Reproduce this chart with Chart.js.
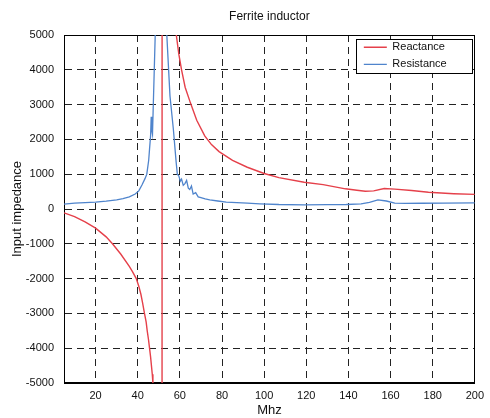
<!DOCTYPE html>
<html>
<head>
<meta charset="utf-8">
<script src="https://cdn.jsdelivr.net/npm/chart.js@4.4.1/dist/chart.umd.min.js"></script>
<style>
  html, body { margin: 0; padding: 0; background: #ffffff; }
  #c { display: block; }
</style>
</head>
<body>
<canvas id="c" width="490" height="418"></canvas>
<script>
// ---- Data ----
const chartTitle = "Ferrite inductor";
const xTitle = "Mhz";
const yTitle = "Input impedance";
const seriesNames = ["Reactance", "Resistance"];

const xTicks = [20, 40, 60, 80, 100, 120, 140, 160, 180, 200];

// Reactance (MHz, ohm)
const reactFreq = [5, 10, 15, 20, 25, 28, 32, 36, 37.5, 39.3, 40.5, 41.5, 42.3, 43.2, 44, 44.5, 45.1, 45.6, 46.1, 46.5, 46.9, 47.2,
  48.5, 50, 51.4, 51.7, 53.5, 55.5, 57, 58.3, 59.5, 60.8, 62.5, 65, 68, 71.8, 75, 78.6, 85, 92, 100, 107, 119, 128,
  138.6, 144, 148, 152, 157, 162, 170, 178, 190, 200];
const reactance = [-110, -220, -370, -550, -800, -1000, -1300, -1650, -1800, -2000, -2220, -2450, -2700, -3000, -3250, -3500, -3750, -4000, -4250, -4500, -4750, -5000,
  -7000, -12000, -80000, 80000, 15000, 8000, 6000, 5000, 4450, 4000, 3500, 3050, 2550, 2100, 1850, 1650, 1400, 1200, 1020, 900, 770, 700,
  580, 540, 510, 520, 590, 570, 530, 480, 440, 420];

// Resistance (MHz, ohm)
const resistFreq = [5, 10, 15, 20, 25, 30, 33, 36, 38.8, 40.5, 42, 43.5, 44.3, 45.2, 45.6, 46.1, 46.4, 46.7, 47, 47.3,
  47.8, 48.3, 49.5, 51.5, 53, 53.8, 55.3, 56.9, 58.2, 58.8, 59.5, 60.2, 60.8, 61.6, 62.4, 63.2, 64, 64.7, 65.5, 66.3,
  67.5, 68.7, 70, 72, 74.2, 78, 82, 87, 92, 98, 107, 119, 130, 139, 146, 150, 154, 158, 162, 167, 175, 185, 200];
const resistance = [140, 170, 185, 200, 225, 265, 300, 350, 430, 520, 690, 880, 1000, 1400, 1720, 2100, 2650, 2250, 2150, 2800,
  3900, 5000, 12000, 30000, 11000, 5000, 3250, 2300, 1370, 1000, 950, 800, 860, 680, 730, 820, 600, 560, 660, 430,
  470, 350, 330, 290, 260, 230, 200, 185, 170, 150, 130, 120, 125, 130, 150, 190, 260, 230, 170, 160, 165, 170, 175];

const yMin = -5000, yMax = 5000, yStep = 1000;
const xMin = 5, xMax = 200;

// ---- Build datasets ----
const toPoints = (xs, ys) => xs.map((x, i) => ({ x: x, y: ys[i] }));

const RED = '#e5404a';
const BLUE = '#4f84cc';
const FONT = '"Liberation Sans", Arial, sans-serif';

const framePlugin = {
  id: 'frameAndLegendBox',
  afterLayout(chart) {
    const lg = chart.legend, ca = chart.chartArea;
    if (!lg) return;
    lg.left = ca.right - 117;
    lg.top = ca.top + 0.8;
    lg.right = lg.left + lg.width;
    lg.bottom = lg.top + lg.height;
  },
  beforeDatasetsDraw(chart) {
    const ctx = chart.ctx, ca = chart.chartArea;
    ctx.save();
    ctx.setLineDash([]);
    ctx.strokeStyle = '#000';
    ctx.lineWidth = 1;
    ctx.strokeRect(Math.round(ca.left) + 0.5, Math.round(ca.top) + 0.5,
      Math.round(ca.right - ca.left) - 1, Math.round(ca.bottom - ca.top) - 1);
    // legend box
    const bx = Math.round(ca.right - 119) + 0.5, by = Math.round(ca.top + 3.5) + 0.5;
    ctx.fillStyle = '#fff';
    ctx.fillRect(bx, by, 116, 34);
    ctx.strokeRect(bx, by, 116, 34);
    ctx.restore();
    if (chart.legend) chart.legend.draw();
  }
};

new Chart(document.getElementById('c'), {
  type: 'line',
  data: {
    datasets: [
      {
        label: seriesNames[0],
        data: toPoints(reactFreq, reactance),
        borderColor: RED,
        backgroundColor: RED,
        borderWidth: 1.4,
        pointRadius: 0,
        tension: 0,
        fill: false
      },
      {
        label: seriesNames[1],
        data: toPoints(resistFreq, resistance),
        borderColor: BLUE,
        backgroundColor: BLUE,
        borderWidth: 1.3,
        pointRadius: 0,
        tension: 0,
        fill: false
      }
    ]
  },
  options: {
    responsive: false,
    animation: false,
    events: [],
    layout: { padding: { left: 0, right: 14, top: 0, bottom: 0 } },
    plugins: {
      title: {
        display: true,
        text: chartTitle,
        fullSize: false,
        color: '#111',
        font: { family: FONT, size: 12, weight: 'normal' },
        padding: { top: 9.8, bottom: 10.8 }
      },
      legend: {
        display: true,
        position: 'chartArea',
        align: 'start',
        labels: {
          usePointStyle: true,
          pointStyle: 'line',
          pointStyleWidth: 23,
          padding: 6,
          color: '#111',
          font: { family: FONT, size: 11 }
        }
      },
      tooltip: { enabled: false }
    },
    scales: {
      x: {
        type: 'linear',
        min: xMin,
        max: xMax,
        afterBuildTicks: (scale) => { scale.ticks = xTicks.map(v => ({ value: v })); },
        afterFit: (scale) => { scale.height = 35; },
        ticks: {
          color: '#111',
          padding: 6,
          maxRotation: 0,
          autoSkip: false,
          font: { family: FONT, size: 11 },
          callback: (v) => String(v)
        },
        grid: { color: '#222', lineWidth: 1, drawTicks: false },
        border: { display: true, color: '#000', width: 1, dash: [7, 5] },
        title: {
          display: true,
          text: xTitle,
          color: '#111',
          font: { family: FONT, size: 13 },
          padding: { top: 0, bottom: 0 }
        }
      },
      y: {
        type: 'linear',
        min: yMin,
        max: yMax,
        afterFit: (scale) => { scale.width = 64; },
        ticks: {
          stepSize: yStep,
          color: '#111',
          padding: 10,
          font: { family: FONT, size: 11 },
          callback: (v) => String(v)
        },
        grid: { color: '#222', lineWidth: 1, drawTicks: false },
        border: { display: true, color: '#000', width: 1, dash: [7, 5] },
        title: {
          display: true,
          text: yTitle,
          color: '#111',
          font: { family: FONT, size: 13 },
          padding: { top: 10, bottom: 0 }
        }
      }
    }
  },
  plugins: [framePlugin]
});
</script>
</body>
</html>
